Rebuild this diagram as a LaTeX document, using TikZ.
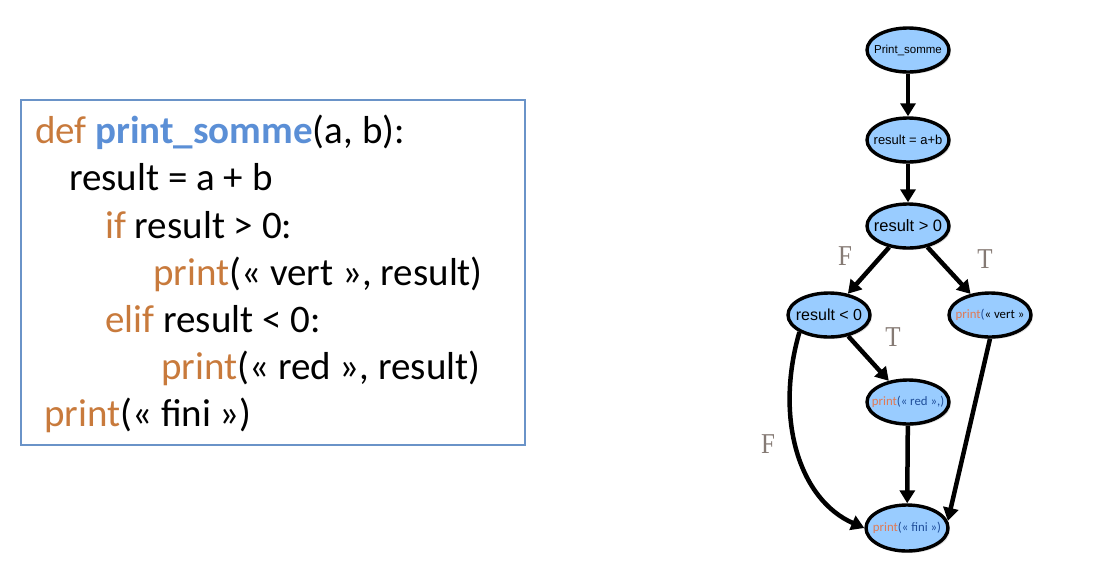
\documentclass[tikz,border=0pt]{standalone}
\usepackage{fontspec}
\setmainfont{Carlito}
\newfontfamily\arialf{Liberation Sans}
\newfontfamily\timesf{Liberation Serif}
\usetikzlibrary{shapes.geometric,arrows.meta,shadows}
\definecolor{kw}{HTML}{C87A3C}
\definecolor{fn}{HTML}{5B8FD6}
\definecolor{boxc}{HTML}{6A93C8}
\definecolor{nodefill}{HTML}{99CCFF}
\definecolor{lbl}{HTML}{857A74}
\definecolor{pr}{HTML}{E07A55}
\definecolor{par}{HTML}{1F4E9A}
\newcommand{\zb}[1]{\makebox[0pt]{#1}}
\tikzset{
  codeline/.style={anchor=base west, inner sep=0pt, font=\fontsize{39}{39}\selectfont},
  gnode/.style={ellipse, draw=black, line width=3.4pt, fill=nodefill, minimum width=82pt, minimum height=44pt, inner sep=0pt,
    drop shadow={shadow xshift=2pt, shadow yshift=-2pt, opacity=0.25}},
  edge/.style={line width=4.5pt, -{Triangle[length=13pt,width=15pt]}},
  tf/.style={font=\timesf\fontsize{25}{25}\selectfont, text=lbl, inner sep=0pt, yscale=1.15},
}
\begin{document}
\begin{tikzpicture}[x=1pt,y=-1pt]
\useasboundingbox (0,0) rectangle (1107,574);
% code box
\node[draw=boxc, line width=2pt, minimum width=504pt, minimum height=345pt, anchor=north west, inner sep=0pt] (box) at (20,99) {};
\node[codeline] (l1) at (35,143) {\textcolor{kw}{def} \textcolor{fn}{\bfseries print\_somme}(a, b):};
\node[codeline] (l2) at (69,190) {result = a + b};
\node[codeline] (l3) at (105,238) {\textcolor{kw}{if} result > 0:};
\node[codeline] (l4) at (153,285) {\textcolor{kw}{print}(« vert », result)};
\node[codeline] (l5) at (105,332) {\textcolor{kw}{elif} result < 0:};
\node[codeline] (l6) at (161,379) {\textcolor{kw}{print}(« red », result)};
\node[codeline] (l7) at (44,426) {\textcolor{kw}{print}(« fini »)};
% graph
\node[gnode, font=\arialf\fontsize{11.5}{12}\selectfont] (ps) at (908,50) {\zb{Print\_somme}};
\node[gnode, font=\arialf\fontsize{13}{13}\selectfont] (ab) at (908,140) {\zb{result = a+b}};
\node[gnode, font=\arialf\fontsize{16.5}{17}\selectfont] (gt) at (908,226) {\zb{result > 0}};
\node[gnode, font=\arialf\fontsize{16}{17}\selectfont] (lt) at (829,315) {\zb{result < 0}};
\node[gnode, font=\fontsize{12.8}{14}\selectfont] (vert) at (990,315) {\zb{\textcolor{pr}{print}\textcolor{par}{(}« vert »}};
\node[gnode, font=\fontsize{12.8}{14}\selectfont] (red) at (908,402) {\zb{\textcolor{pr}{print}\textcolor{par}{(« red »,)}}};
\node[gnode, font=\fontsize{12.8}{14}\selectfont, minimum height=46pt] (fini) at (907,528) {\zb{\textcolor{pr}{print}\textcolor{par}{(« fini »)}}};
\draw[edge] (ps) -- (ab);
\draw[edge] (ab) -- (gt);
\draw[edge] (gt) -- (lt);
\draw[edge] (gt) -- (vert);
\draw[edge] (lt) -- (red);
\draw[edge] (red) -- (fini);
\draw[edge] (vert.south) -- (fini.10);
\draw[edge] (lt.210) .. controls (774,420) and (800,500) .. (fini.west);
\node[tf] (f1) at (845,256) {F};
\node[tf] (t1) at (985,259) {T};
\node[tf] (t2) at (893,337) {T};
\node[tf] (f2) at (768,444) {F};
\end{tikzpicture}
\end{document}
